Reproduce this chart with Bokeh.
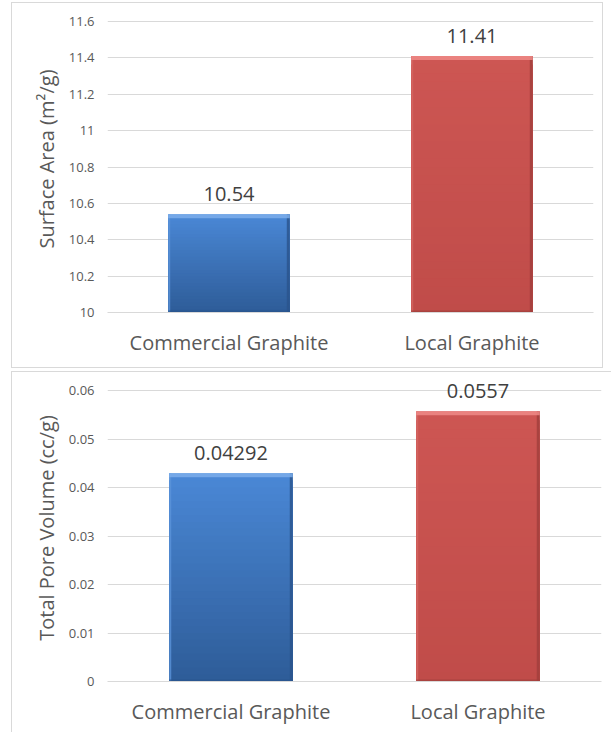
from bokeh.plotting import figure
from bokeh.layouts import column
from bokeh.models import ColumnDataSource, Range1d, FixedTicker, LabelSet
from bokeh.core.properties import value
from bokeh.embed import file_html
from bokeh.resources import INLINE

# ---- data -------------------------------------------------------------
categories = ["Commercial Graphite", "Local Graphite"]
surface_area = [10.54, 11.41]            # m2/g
pore_volume = [0.04292, 0.0557]          # cc/g
surface_labels = ["10.54", "11.41"]
pore_labels = ["0.04292", "0.0557"]

sa_ticks = [10.0, 10.2, 10.4, 10.6, 10.8, 11.0, 11.2, 11.4, 11.6]
sa_tick_labels = ["10", "10.2", "10.4", "10.6", "10.8", "11", "11.2", "11.4", "11.6"]
pv_ticks = [0.0, 0.01, 0.02, 0.03, 0.04, 0.05, 0.06]
pv_tick_labels = ["0", "0.01", "0.02", "0.03", "0.04", "0.05", "0.06"]

FONT = "Open Sans"

# bar shading: (top colour, bottom colour, top bevel, right edge, left edge)
BLUE = ((0x4A, 0x88, 0xD6), (0x2E, 0x5C, 0x98), "#7DAEEB", "#2A548C", "#5B93DA")
RED = ((0xCD, 0x56, 0x53), (0xC0, 0x4C, 0x49), "#EE8A87", "#A03E3C", "#D46562")


def mix(c1, c2, t):
    return "#%02x%02x%02x" % tuple(int(round(a + (b - a) * t)) for a, b in zip(c1, c2))


def make_panel(values, labels, ticks, tick_labels, ylabel, width, height,
               borders, headroom, css):
    lo, hi = ticks[0], ticks[-1]
    left, right, top, bottom = borders
    frame_w = width - left - right
    grid_h = height - top - bottom - headroom      # pixels from lo to hi
    px_x = 2.0 / frame_w
    px_y = (hi - lo) / grid_h

    p = figure(width=width, height=height, output_backend="svg",
               toolbar_location=None, x_range=Range1d(0, 2),
               y_range=Range1d(lo, hi + headroom * px_y),
               min_border_left=left, min_border_right=right,
               min_border_top=top, min_border_bottom=bottom,
               background_fill_color="white", border_fill_color="white",
               styles=css)
    p.outline_line_color = None
    p.xgrid.grid_line_color = None
    p.ygrid.grid_line_color = "#D9D9D9"
    p.ygrid.grid_line_width = 1

    xs = [0.5 + i for i in range(len(values))]
    bw = 0.5
    shades = [BLUE, RED]

    # body with a vertical gradient: successively shorter bars painted over
    # each other, so there are no seams between the colour steps
    n = 30
    for xi, v, sh in zip(xs, values, shades):
        tops, cols = [], []
        for k in range(n):
            t0 = k / n
            tops.append(v - (v - lo) * t0)
            cols.append(mix(sh[0], sh[1], (k + 0.5) / n))
        p.vbar(x=[xi] * n, top=tops, bottom=[lo] * n, width=bw,
               fill_color=cols, line_color=None)
        # side edges, bottom edge and top bevel
        p.vbar(x=[xi + bw / 2 - 1.5 * px_x], top=[v], bottom=[lo],
               width=3 * px_x, fill_color=sh[3], line_color=None, fill_alpha=0.8)
        p.vbar(x=[xi - bw / 2 + 1.0 * px_x], top=[v], bottom=[lo],
               width=2 * px_x, fill_color=sh[4], line_color=None, fill_alpha=0.8)
        p.vbar(x=[xi], top=[lo + 2 * px_y], bottom=[lo], width=bw,
               fill_color=sh[3], line_color=None, fill_alpha=0.7)
        p.vbar(x=[xi], top=[v], bottom=[v - 4 * px_y], width=bw,
               fill_color=sh[2], line_color=None, fill_alpha=0.85)

    src = ColumnDataSource(dict(x=xs, y=values, text=labels))
    p.add_layout(LabelSet(x="x", y="y", text="text", source=src,
                          text_align="center", text_baseline="alphabetic",
                          y_offset=13, text_font=value(FONT),
                          text_font_size="20px", text_color="#404040"))

    p.xaxis.ticker = FixedTicker(ticks=xs)
    p.xaxis.major_label_overrides = {x: c for x, c in zip(xs, categories)}
    p.xaxis.major_tick_line_color = None
    p.xaxis.major_tick_out = 0
    p.xaxis.major_tick_in = 0
    p.xaxis.minor_tick_line_color = None
    p.xaxis.axis_line_color = "#D9D9D9"
    p.xaxis.major_label_text_font = FONT
    p.xaxis.major_label_text_font_size = "20px"
    p.xaxis.major_label_text_color = "#595959"
    p.xaxis.major_label_standoff = 16

    p.yaxis.ticker = FixedTicker(ticks=ticks)
    p.yaxis.major_label_overrides = {t: s for t, s in zip(ticks, tick_labels)}
    p.yaxis.major_tick_line_color = None
    p.yaxis.major_tick_out = 0
    p.yaxis.major_tick_in = 0
    p.yaxis.minor_tick_line_color = None
    p.yaxis.axis_line_color = None
    p.yaxis.major_label_text_font = FONT
    p.yaxis.major_label_text_font_size = "13px"
    p.yaxis.major_label_text_color = "#595959"
    p.yaxis.major_label_standoff = 13
    p.yaxis.axis_label = ylabel
    p.yaxis.axis_label_text_font = FONT
    p.yaxis.axis_label_text_font_style = "normal"
    p.yaxis.axis_label_text_font_size = "20px"
    p.yaxis.axis_label_text_color = "#595959"
    p.yaxis.axis_label_standoff = 6
    return p


top = make_panel(surface_area, surface_labels, sa_ticks, sa_tick_labels,
                 "Surface Area (m²/g)", 592, 366, (95, 5, 2, 57), 16,
                 {"border": "1px solid #D9D9D9", "margin-left": "11px",
                  "margin-top": "2px"})
bottom = make_panel(pore_volume, pore_labels, pv_ticks, pv_tick_labels,
                    "Total Pore Volume (cc/g)", 600, 361, (95, 11, 2, 52), 16,
                    {"border-top": "1px solid #D9D9D9",
                     "border-left": "1px solid #D9D9D9",
                     "margin-left": "11px", "margin-top": "3px"})

layout = column(top, bottom, spacing=0)
open("out.html", "w").write(file_html(layout, INLINE))
